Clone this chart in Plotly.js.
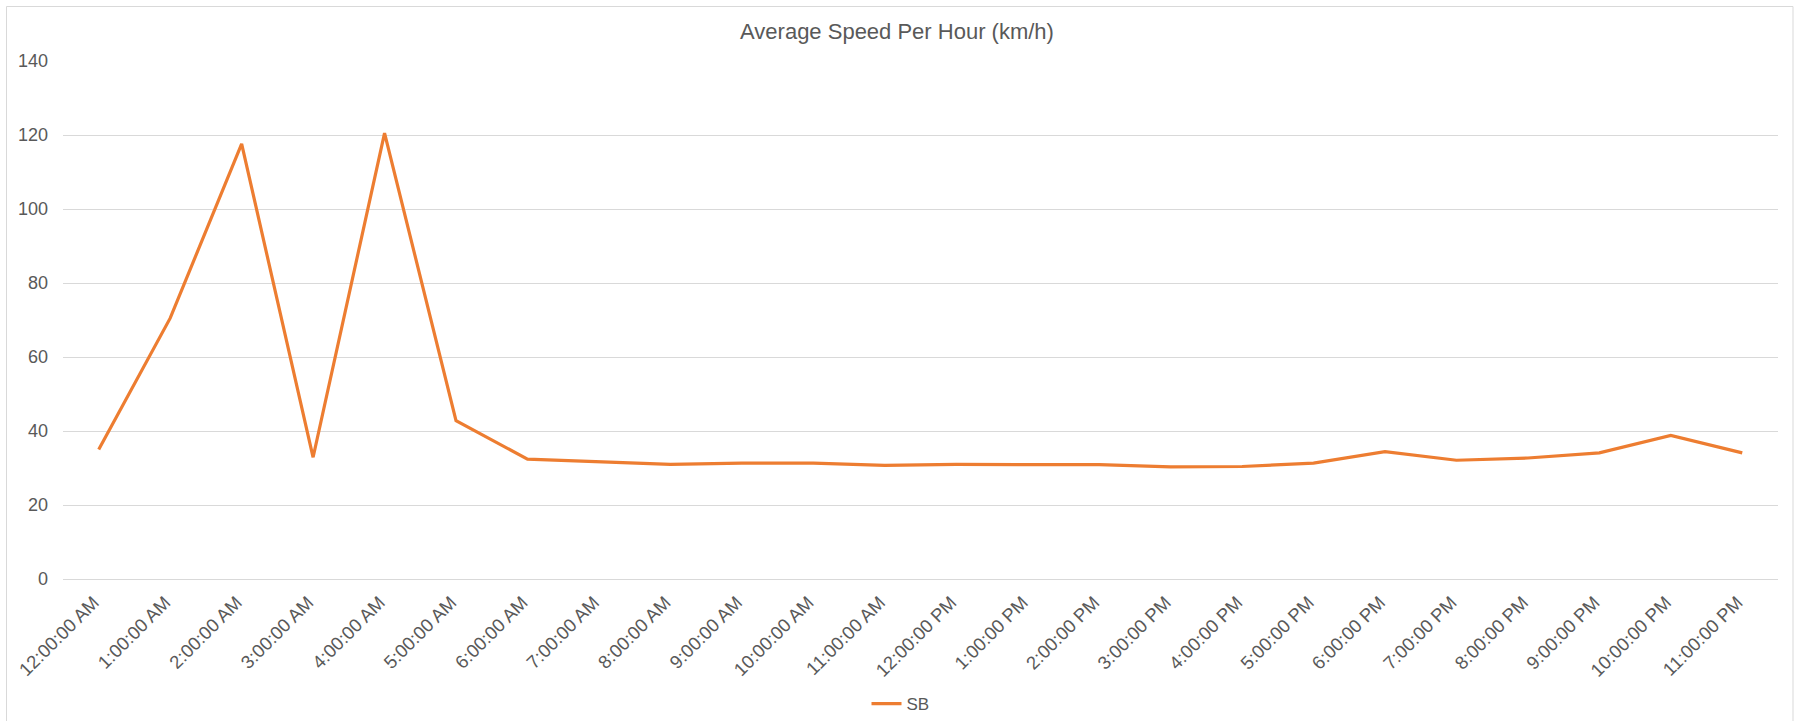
<!DOCTYPE html>
<html>
<head>
<meta charset="utf-8">
<script src="https://cdn.plot.ly/plotly-3.0.1.min.js"></script>
<style>
  html, body { margin: 0; padding: 0; background: #ffffff; }
  #chart { width: 1794px; height: 721px; }
</style>
</head>
<body>
<div id="chart"></div>
<script>
// ---- Data ----
const hours = [
  "12:00:00 AM", "1:00:00 AM", "2:00:00 AM", "3:00:00 AM", "4:00:00 AM", "5:00:00 AM",
  "6:00:00 AM", "7:00:00 AM", "8:00:00 AM", "9:00:00 AM", "10:00:00 AM", "11:00:00 AM",
  "12:00:00 PM", "1:00:00 PM", "2:00:00 PM", "3:00:00 PM", "4:00:00 PM", "5:00:00 PM",
  "6:00:00 PM", "7:00:00 PM", "8:00:00 PM", "9:00:00 PM", "10:00:00 PM", "11:00:00 PM"
];
const sbSpeed = [
  35.0, 70.5, 117.6, 32.9, 120.5, 42.8,
  32.4, 31.7, 31.0, 31.3, 31.3, 30.7,
  31.0, 30.9, 30.9, 30.3, 30.4, 31.3,
  34.4, 32.1, 32.7, 34.1, 38.8, 34.1
];
const seriesName = "SB";
const chartTitle = "Average Speed Per Hour (km/h)";
const yTicks = [0, 20, 40, 60, 80, 100, 120, 140];

// ---- Layout geometry ----
const W = 1794, H = 721;
const mL = 63, mR = 16, mT = 61, mB = 142;
const plotW = W - mL - mR, plotH = H - mT - mB;
const px2x = p => (p - mL) / plotW;
const px2y = p => (H - mB - p) / plotH;

const fontFam = '"Liberation Sans", Arial, "DejaVu Sans", sans-serif';
const textGray = '#595959';
const gridGray = '#d9d9d9';

const trace = {
  type: 'scatter',
  mode: 'lines',
  x: hours,
  y: sbSpeed,
  name: seriesName,
  line: { color: '#ED7D31', width: 3.2 },
  showlegend: true
};

const layout = {
  width: W,
  height: H,
  margin: { l: mL, r: mR, t: mT, b: mB, pad: 0, autoexpand: false },
  paper_bgcolor: '#ffffff',
  plot_bgcolor: '#ffffff',
  font: { family: fontFam, color: textGray, size: 18 },
  title: {
    text: chartTitle,
    font: { family: fontFam, size: 22, color: textGray },
    x: 0.5, xref: 'container', xanchor: 'center',
    y: 1 - 31 / H, yref: 'container', yanchor: 'middle',
    automargin: false
  },
  xaxis: {
    type: 'category',
    categoryorder: 'array',
    categoryarray: hours,
    range: [-0.5, hours.length - 0.5],
    tickangle: -45,
    showgrid: false,
    zeroline: false,
    showline: false,
    ticks: '',
    automargin: false,
    ticklabelstandoff: 8,
    ticklabelshift: -5,
    tickfont: { family: fontFam, size: 18.5, color: textGray },
    fixedrange: true
  },
  yaxis: {
    range: [0, 140],
    tickvals: yTicks,
    ticktext: yTicks.map(String),
    showgrid: true,
    gridcolor: gridGray,
    gridwidth: 1,
    zeroline: true,
    zerolinecolor: gridGray,
    zerolinewidth: 1,
    showline: false,
    ticks: '',
    automargin: false,
    ticklabelstandoff: 14,
    tickfont: { family: fontFam, size: 18, color: textGray },
    fixedrange: true
  },
  legend: {
    orientation: 'h',
    x: px2x(mL + plotW / 2 - 20), xanchor: 'center',
    y: px2y(704), yanchor: 'middle',
    font: { family: fontFam, size: 17, color: textGray },
    bgcolor: 'rgba(0,0,0,0)'
  },
  shapes: [{
    type: 'rect',
    xref: 'paper', yref: 'paper',
    x0: px2x(6.5), x1: px2x(1793),
    y0: px2y(730), y1: px2y(6.5),
    line: { color: gridGray, width: 1 },
    fillcolor: 'rgba(0,0,0,0)',
    layer: 'below'
  }]
};

Plotly.newPlot('chart', [trace], layout, { displayModeBar: false, staticPlot: true });
</script>
</body>
</html>
